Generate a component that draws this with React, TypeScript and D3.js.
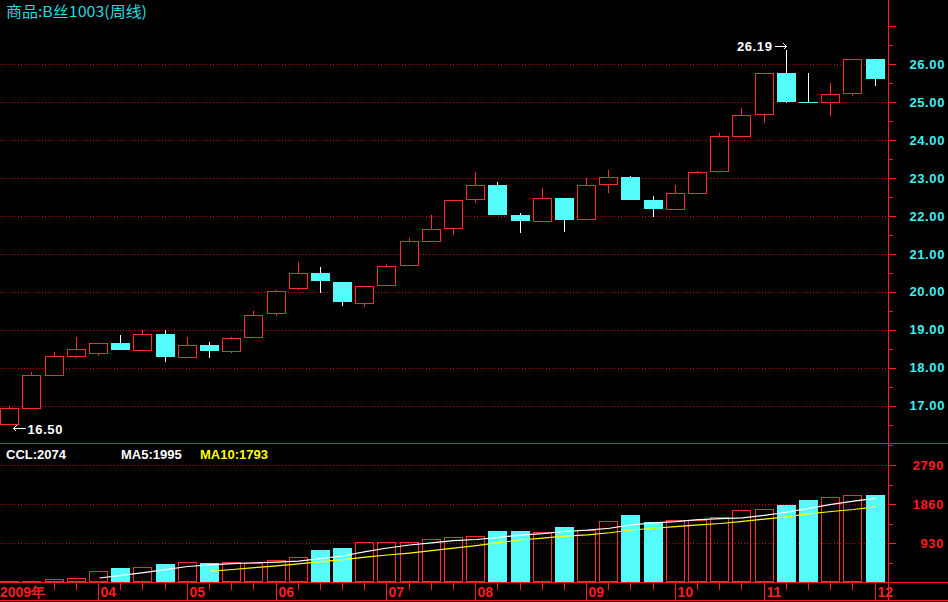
import React from "react";
import * as d3 from "d3";

const opens = [16.52, 16.95, 17.82, 18.32, 18.40, 18.65, 18.47, 18.89, 18.29, 18.60, 18.45, 18.80, 19.44, 20.10, 20.49, 20.26, 19.70, 20.18, 20.70, 21.35, 21.67, 22.44, 22.81, 22.02, 21.87, 22.47, 21.91, 22.83, 23.02, 22.42, 22.19, 22.61, 23.18, 24.11, 24.67, 25.76, 25.00, 24.99, 25.23, 26.13];
const highs = [16.98, 17.90, 18.41, 18.82, 18.64, 18.86, 19.00, 19.00, 18.82, 18.69, 18.82, 19.49, 20.05, 20.78, 20.65, 20.26, 20.15, 20.72, 21.42, 22.02, 22.41, 23.15, 22.89, 22.07, 22.73, 22.47, 22.99, 23.21, 23.06, 22.52, 22.81, 23.18, 24.17, 24.85, 25.76, 26.38, 25.75, 25.51, 26.13, 26.13];
const lows = [16.50, 16.95, 17.82, 18.26, 18.32, 18.47, 18.47, 18.14, 18.29, 18.26, 18.40, 18.80, 19.36, 20.05, 19.97, 19.63, 19.60, 20.18, 20.70, 21.31, 21.50, 22.35, 22.03, 21.54, 21.87, 21.58, 21.91, 22.59, 22.43, 21.98, 22.19, 22.61, 23.18, 24.11, 24.44, 24.97, 25.00, 24.63, 25.17, 25.42];
const closes = [16.95, 17.81, 18.31, 18.49, 18.64, 18.47, 18.89, 18.29, 18.60, 18.45, 18.78, 19.40, 20.03, 20.49, 20.28, 19.73, 20.15, 20.68, 21.34, 21.65, 22.41, 22.80, 22.03, 21.87, 22.46, 21.90, 22.81, 23.02, 22.43, 22.19, 22.60, 23.15, 24.10, 24.66, 25.76, 24.99, 25.00, 25.21, 26.13, 25.60];
const volumes = [20, 30, 60, 105, 260, 335, 350, 430, 475, 455, 475, 460, 515, 585, 760, 810, 950, 950, 945, 1015, 1065, 1090, 1215, 1215, 1190, 1310, 1250, 1445, 1605, 1430, 1475, 1485, 1550, 1710, 1735, 1835, 1955, 2025, 2086, 2074];

const priceTicks = [17, 18, 19, 20, 21, 22, 23, 24, 25, 26];
const volumeTicks = [930, 1860, 2790];
const monthLabels = ["2009年", "04", "05", "06", "07", "08", "09", "10", "11", "12"];
const monthStartIndex = [0, 4, 8, 12, 17, 21, 26, 30, 34, 39];
const highLabel = "26.19";
const lowLabel = "16.50";
const title = "商品:B丝1003(周线)";

const W = 948;
const H = 602;
const AXIS_X = 888;
const PRICE_BOTTOM = 443;
const VOL_BOTTOM = 582;
const AXIS_BOTTOM = 600;

const RED = "#ff2c2c";
const LINE_RED = "#ff1c1c";
const CYAN = "#54fcfc";
const LABEL_CYAN = "#3cf0f0";
const GRID = "#c00000";
const NUM_FONT = "'Liberation Sans', Arial, sans-serif";

function movingAvg(arr: number[], n: number) {
  return arr.map((_, i) => (i < n - 1 ? null : (d3.mean(arr.slice(i - n + 1, i + 1)) as number)));
}

export default function App() {
  const n = closes.length;
  const x = d3.scaleLinear().domain([0, n - 1]).range([9.8, 875]);
  const y = d3.scaleLinear().domain([17, 26]).range([405.7, 64]);
  const yv = d3.scaleLinear().domain([0, 2790]).range([VOL_BOTTOM, 465]);
  const ma5 = movingAvg(volumes, 5);
  const ma10 = movingAvg(volumes, 10);
  const line = d3
    .line<number | null>()
    .defined((d) => d !== null)
    .x((_, i) => Math.round(x(i)) + 0.5)
    .y((d) => yv(d as number));

  const bw = 19;
  const left = (i: number) => Math.round(x(i) - bw / 2);
  const mid = (i: number) => left(i) + 9.5;

  const hiIdx = d3.maxIndex(highs);
  const loIdx = d3.minIndex(lows);

  const candles = closes.map((c, i) => {
    const o = opens[i];
    const up = c > o;
    const top = Math.round(y(Math.max(o, c)));
    const bot = Math.round(y(Math.min(o, c)));
    const hy = Math.round(y(highs[i]));
    const ly = Math.round(y(lows[i]));
    const cx = mid(i);
    if (up) {
      return (
        <g key={i}>
          {hy < top && <line x1={cx} x2={cx} y1={hy} y2={top} stroke={RED} strokeWidth={1.3} />}
          {ly > bot && <line x1={cx} x2={cx} y1={bot} y2={ly} stroke={RED} strokeWidth={1.3} />}
          <rect x={left(i) + 0.5} y={top + 0.5} width={bw - 1} height={Math.max(bot - top, 1)} fill="#000" stroke={RED} strokeWidth={1.3} />
        </g>
      );
    }
    return (
      <g key={i}>
        <line x1={cx} x2={cx} y1={hy} y2={ly} stroke="#fff" strokeWidth={1.2} />
        {bot - top >= 1 ? (
          <rect x={left(i)} y={top} width={bw} height={bot - top} fill={CYAN} />
        ) : (
          <line x1={left(i)} x2={left(i) + bw} y1={top + 0.5} y2={top + 0.5} stroke={CYAN} strokeWidth={1.5} />
        )}
      </g>
    );
  });

  const volBars = volumes.map((v, i) => {
    const up = closes[i] > opens[i];
    const top = Math.round(yv(v));
    if (up) {
      return (
        <rect key={i} x={left(i) + 0.5} y={top + 0.5} width={bw - 1} height={Math.max(VOL_BOTTOM - top - 1, 0.5)} fill="none" stroke={RED} strokeWidth={1.3} />
      );
    }
    return <rect key={i} x={left(i)} y={top} width={bw} height={VOL_BOTTOM - top} fill={CYAN} />;
  });

  const lastMa5 = Math.floor(ma5[n - 1] as number);
  const lastMa10 = Math.floor(ma10[n - 1] as number);

  const hx = mid(hiIdx);
  const hy = Math.round(y(highs[hiIdx]));
  const lx = mid(loIdx);
  const ly = Math.round(y(lows[loIdx]));

  return (
    <svg
      width={W}
      height={H}
      style={{ position: "absolute", left: 0, top: 0, background: "#000", display: "block" }}
      shapeRendering="crispEdges"
    >
      <rect x={0} y={0} width={W} height={H} fill="#000" />
      {priceTicks.map((t) => (
        <line key={t} x1={0} x2={AXIS_X} y1={Math.round(y(t)) + 0.5} y2={Math.round(y(t)) + 0.5} stroke={GRID} strokeDasharray="1,2" />
      ))}
      {volumeTicks.map((t) => (
        <line key={t} x1={0} x2={AXIS_X} y1={Math.round(yv(t)) + 0.5} y2={Math.round(yv(t)) + 0.5} stroke={GRID} strokeDasharray="1,2" />
      ))}

      {candles}
      {volBars}

      <path d={line(ma5) || ""} fill="none" stroke="#fff" strokeWidth={1.2} shapeRendering="auto" />
      <path d={line(ma10) || ""} fill="none" stroke="#ffff00" strokeWidth={1.2} shapeRendering="auto" />

      <line x1={0} x2={W} y1={PRICE_BOTTOM + 0.5} y2={PRICE_BOTTOM + 0.5} stroke={LINE_RED} />
      <line x1={0} x2={W} y1={VOL_BOTTOM + 0.5} y2={VOL_BOTTOM + 0.5} stroke={LINE_RED} />
      <line x1={0} x2={W} y1={AXIS_BOTTOM + 0.5} y2={AXIS_BOTTOM + 0.5} stroke={LINE_RED} />
      <line x1={AXIS_X + 0.5} x2={AXIS_X + 0.5} y1={0} y2={AXIS_BOTTOM} stroke={LINE_RED} />

      {d3.range(16.5, 27.5, 0.5).map((t) => {
        const yy = Math.round(y(t)) + 0.5;
        if (yy < 2 || yy > PRICE_BOTTOM - 2) return null;
        const major = Number.isInteger(t);
        return <line key={t} x1={AXIS_X} x2={AXIS_X + (major ? 8 : 5)} y1={yy} y2={yy} stroke={LINE_RED} />;
      })}
      {priceTicks.map((t) => (
        <text key={t} x={945} y={y(t)} dy="0.36em" textAnchor="end" fill={LABEL_CYAN} fontFamily={NUM_FONT} fontWeight="bold" fontSize={13} letterSpacing={0.6}>
          {t.toFixed(2)}
        </text>
      ))}

      {d3.range(465, 2790 + 465 + 1, 465).map((t) => {
        const yy = Math.round(yv(t)) + 0.5;
        const major = t % 930 === 0;
        return <line key={t} x1={AXIS_X} x2={AXIS_X + (major ? 8 : 5)} y1={yy} y2={yy} stroke={LINE_RED} />;
      })}
      {volumeTicks.map((t) => (
        <text key={t} x={944} y={yv(t)} dy="0.36em" textAnchor="end" fill={LINE_RED} fontFamily={NUM_FONT} fontWeight="bold" fontSize={13} letterSpacing={0.6}>
          {t}
        </text>
      ))}

      {closes.map((_, i) =>
        mid(i) > 48 ? <line key={i} x1={mid(i)} x2={mid(i)} y1={VOL_BOTTOM} y2={590} stroke={LINE_RED} /> : null
      )}
      {monthStartIndex.map((idx, k) => (
        <g key={k}>
          {k > 0 && <line x1={mid(idx)} x2={mid(idx)} y1={VOL_BOTTOM} y2={AXIS_BOTTOM} stroke={LINE_RED} />}
          <text x={k === 0 ? 0 : mid(idx) + 2} y={597} fill={LINE_RED} fontFamily={NUM_FONT} fontWeight="bold" fontSize={14}>
            {monthLabels[k]}
          </text>
        </g>
      ))}

      <text x={6} y={459} fill="#fff" fontFamily={NUM_FONT} fontWeight="bold" fontSize={13}>
        {`CCL:${volumes[n - 1]}`}
      </text>
      <text x={121} y={459} fill="#fff" fontFamily={NUM_FONT} fontWeight="bold" fontSize={13}>
        {`MA5:${lastMa5}`}
      </text>
      <text x={200} y={459} fill="#ffff00" fontFamily={NUM_FONT} fontWeight="bold" fontSize={13}>
        {`MA10:${lastMa10}`}
      </text>

      <text x={hx - 14} y={hy - 4} dy="0.36em" textAnchor="end" fill="#fff" fontFamily={NUM_FONT} fontWeight="bold" fontSize={13} letterSpacing={0.6}>
        {highLabel}
      </text>
      <line x1={hx - 12} x2={hx} y1={hy - 3.5} y2={hy - 3.5} stroke="#fff" />
      <path d={`M${hx - 3},${hy - 6.5} L${hx},${hy - 3.5} L${hx - 3},${hy - 0.5}`} fill="none" stroke="#fff" />

      <line x1={lx + 4} x2={lx + 16} y1={ly + 3.5} y2={ly + 3.5} stroke="#fff" />
      <path d={`M${lx + 7},${ly + 0.5} L${lx + 4},${ly + 3.5} L${lx + 7},${ly + 6.5}`} fill="none" stroke="#fff" />
      <text x={lx + 18} y={ly + 4} dy="0.36em" fill="#fff" fontFamily={NUM_FONT} fontWeight="bold" fontSize={13} letterSpacing={0.6}>
        {lowLabel}
      </text>

      <text x={6} y={17} fill="#20dcdc" fontFamily="'Noto Sans CJK SC', sans-serif" fontSize={15} textLength={141} lengthAdjust="spacingAndGlyphs">
        {title}
      </text>
    </svg>
  );
}
